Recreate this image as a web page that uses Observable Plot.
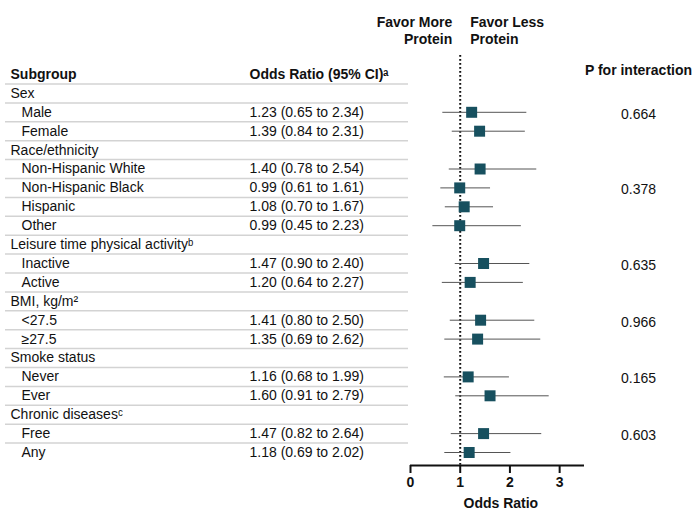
<!DOCTYPE html>
<html><head><meta charset="utf-8">
<script src="https://cdn.jsdelivr.net/npm/d3@7"></script>
<script src="https://cdn.jsdelivr.net/npm/@observablehq/plot@0.6"></script>
<style>body{margin:0;background:#fff;} svg{display:block;}</style>
</head><body><div id="chart"></div>
<script>
const groups = ["Sex","Race/ethnicity","Leisure time physical activityᵇ","BMI, kg/m²","Smoke status","Chronic diseasesᶜ"];
const groupSizes = [2,4,2,2,2,2];
const subgroups = ["Male","Female","Non-Hispanic White","Non-Hispanic Black","Hispanic","Other","Inactive","Active","<27.5","≥27.5","Never","Ever","Free","Any"];
const orValues = [1.23,1.39,1.40,0.99,1.08,0.99,1.47,1.20,1.41,1.35,1.16,1.60,1.47,1.18];
const ciLow = [0.65,0.84,0.78,0.61,0.70,0.45,0.90,0.64,0.80,0.69,0.68,0.91,0.82,0.69];
const ciHigh = [2.34,2.31,2.54,1.61,1.67,2.23,2.40,2.27,2.50,2.62,1.99,2.79,2.64,2.02];
const pValues = ["0.664","0.378","0.635","0.966","0.165","0.603"];
const pRows = ["Male","Non-Hispanic Black","Inactive","<27.5","Never","Free"];
const xTicks = [0,1,2,3];
const headerLabel = "Subgroup";
const orHeader = "Odds Ratio (95% CI)ᵃ";

// build rows (row index drives the vertical position)
const rows = [{id: headerLabel, kind: "header"}];
let k = 0;
groups.forEach((g, gi) => {
  rows.push({id: g, kind: "group"});
  for (let j = 0; j < groupSizes[gi]; j++, k++) {
    rows.push({id: subgroups[k], kind: "sub", or: orValues[k], lo: ciLow[k], hi: ciHigh[k],
      txt: `${orValues[k].toFixed(2)} (${ciLow[k].toFixed(2)} to ${ciHigh[k].toFixed(2)})`});
  }
});
rows.forEach((r, i) => r.row = i);
const lastRow = rows.length - 1;
const subs = rows.filter(d => d.kind === "sub");
const groupRows = rows.filter(d => d.kind === "group");
const headerRows = rows.filter(d => d.kind === "header");
const pData = pValues.map((p, i) => ({p, row: rows.findIndex(r => r.id === pRows[i])}));
const font = "Liberation Sans, Arial, sans-serif";

const chart = Plot.plot({
  width: 693, height: 509,
  marginLeft: 410, marginRight: 109, marginTop: 55, marginBottom: 44,
  style: {fontFamily: font, fontSize: "14px", color: "#111", background: "#fff"},
  x: {domain: [0, 3.5]},
  y: {domain: [0, lastRow], reverse: true, insetTop: 19, insetBottom: 13, axis: null},
  marks: [
    // separator lines
    Plot.ruleY(rows.slice(0, -1), {y: "row", dy: 9.5, insetLeft: -405, insetRight: 176, stroke: "#d3d3d3", strokeWidth: 1.5}),
    // reference line
    Plot.ruleX([1], {stroke: "#111", strokeWidth: 2, strokeDasharray: "1.8,2.2"}),
    // axis line
    Plot.ruleY([lastRow], {dy: 13, stroke: "#111", strokeWidth: 2}),
    Plot.axisX({ticks: xTicks, tickSize: 8, tickPadding: 4, stroke: "#111", strokeWidth: 2, fontWeight: "bold", fontSize: 14, fill: "#111", label: null, tickFormat: d3.format("d")}),
    Plot.text(["Odds Ratio"], {frameAnchor: "bottom-left", dx: 53, dy: 42, fontWeight: "bold", fontSize: 14, fill: "#111"}),
    // CI and points
    Plot.ruleY(subs, {y: "row", x1: "lo", x2: "hi", stroke: "#555", strokeWidth: 1}),
    Plot.dot(subs, {y: "row", x: "or", symbol: "square", r: 6.2, fill: "#17505f", stroke: "none"}),
    // table text
    Plot.text(headerRows, {y: "row", text: "id", frameAnchor: "left", dx: -400, textAnchor: "start", fontWeight: "bold", fontSize: 14, fill: "#111"}),
    Plot.text(headerRows, {y: "row", text: () => orHeader, frameAnchor: "left", dx: -161, textAnchor: "start", fontWeight: "bold", fontSize: 14, fill: "#111"}),
    Plot.text(groupRows, {y: "row", text: "id", frameAnchor: "left", dx: -400, textAnchor: "start", fontSize: 14, fill: "#111"}),
    Plot.text(subs, {y: "row", text: "id", frameAnchor: "left", dx: -389, textAnchor: "start", fontSize: 14, fill: "#111"}),
    Plot.text(subs, {y: "row", text: "txt", frameAnchor: "left", dx: -161, textAnchor: "start", fontSize: 14, fill: "#111"}),
    // p for interaction
    Plot.text(headerRows, {y: "row", text: () => "P for interaction", dy: -4, frameAnchor: "right", dx: 54, textAnchor: "middle", fontWeight: "bold", fontSize: 14, fill: "#111"}),
    Plot.text(pData, {y: "row", text: "p", dy: 2, frameAnchor: "right", dx: 54, textAnchor: "middle", fontSize: 14, fill: "#111"}),
    // favor labels
    Plot.text(["Favor More\nProtein"], {x: () => 1, frameAnchor: "top", dy: -25.5, dx: -8, textAnchor: "end", lineAnchor: "middle", lineHeight: 1.25, fontWeight: "bold", fontSize: 14, letterSpacing: 0.6, fill: "#111"}),
    Plot.text(["Favor Less\nProtein"], {x: () => 1, frameAnchor: "top", dy: -25.5, dx: 10, textAnchor: "start", lineAnchor: "middle", lineHeight: 1.25, fontWeight: "bold", fontSize: 14, letterSpacing: 0.6, fill: "#111"})
  ]
});
document.getElementById("chart").appendChild(chart);
</script>
</body></html>
